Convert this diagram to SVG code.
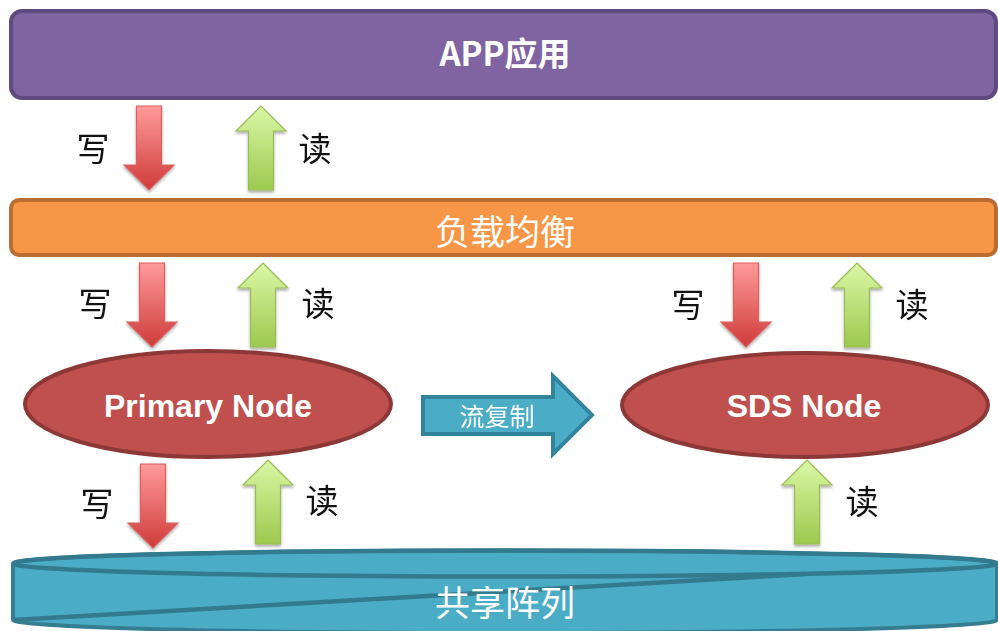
<svg xmlns="http://www.w3.org/2000/svg" xmlns:xlink="http://www.w3.org/1999/xlink" width="998" height="631" viewBox="0 0 998 631">
  <style>
    .cjk { font-family: "Noto Sans CJK SC", "Liberation Sans", sans-serif; }
    .lbl { font-family: "Noto Sans CJK SC", sans-serif; font-size: 33px; fill: #111; text-anchor: middle; dominant-baseline: central; }
    .wt { fill: #ffffff; text-anchor: middle; }
    .node-en { font-family: "Liberation Sans", "Noto Sans", sans-serif; font-weight: bold; font-size: 32px; fill: #ffffff; text-anchor: middle; }
  </style>
  <defs>
    <linearGradient id="gRed" x1="0" y1="0" x2="0" y2="1">
      <stop offset="0" stop-color="#FF9A9A"/>
      <stop offset="1" stop-color="#CF3B3A"/>
    </linearGradient>
    <linearGradient id="gGreen" x1="0" y1="0" x2="0" y2="1">
      <stop offset="0" stop-color="#DBF7A6"/>
      <stop offset="1" stop-color="#9CC94E"/>
    </linearGradient>
    <filter id="sh" x="-20%" y="-20%" width="140%" height="140%">
      <feGaussianBlur in="SourceAlpha" stdDeviation="1.5"/>
      <feOffset dx="0" dy="2" result="b"/>
      <feComponentTransfer><feFuncA type="linear" slope="0.35"/></feComponentTransfer>
      <feMerge><feMergeNode/><feMergeNode in="SourceGraphic"/></feMerge>
    </filter>
    <path id="down" d="M12.5,0 H37.5 V59 H50 L25,84 L0,59 H12.5 Z" fill="url(#gRed)" stroke="#D9605C" stroke-width="1.2"/>
    <path id="up" d="M25,0 L50,25 H37.5 V84 H12.5 V25 H0 Z" fill="url(#gGreen)" stroke="#9BBB59" stroke-width="1.2"/>
  </defs>

  <g id="node-app">
    <rect x="11" y="11" width="985" height="87" rx="11" fill="#8064A2" stroke="#5F4A80" stroke-width="4"/>
    <text x="505" y="66" class="cjk wt" font-size="33" font-weight="bold">APP应用</text>
  </g>

  <g id="node-lb">
    <rect x="11" y="200" width="985" height="55" rx="8" fill="#F79646" stroke="#B96D33" stroke-width="4"/>
    <text x="505" y="229" class="cjk wt" font-size="35" dominant-baseline="central">负载均衡</text>
  </g>

  <g id="node-primary">
    <ellipse cx="208" cy="404" rx="183" ry="53" fill="#C0504D" stroke="#8C3836" stroke-width="4"/>
    <text x="208" y="417" class="node-en">Primary Node</text>
  </g>

  <g id="node-sds">
    <ellipse cx="805" cy="405" rx="183" ry="52" fill="#C0504D" stroke="#8C3836" stroke-width="4"/>
    <text x="804" y="417" class="node-en">SDS Node</text>
  </g>

  <g id="node-storage">
    <path d="M13,563.5 A492,13 0 0 1 997,563.5 V620 A492,13 0 0 1 13,620 Z" fill="#4BACC6" stroke="#357D91" stroke-width="4"/>
    <ellipse cx="505" cy="563.5" rx="492" ry="13" fill="none" stroke="#337A8E" stroke-width="4.5"/>
    <path d="M13,620 Q 420,597 805,574" fill="none" stroke="#337A8E" stroke-width="4.5"/>
    <text x="505" y="600" class="cjk wt" font-size="35" dominant-baseline="central">共享阵列</text>
  </g>

  <g id="connectors">
    <g filter="url(#sh)">
      <use href="#down" x="124" y="106"/>
      <use href="#up" x="236" y="106"/>
      <use href="#down" x="127" y="263"/>
      <use href="#up" x="238" y="263"/>
      <use href="#down" x="721" y="263"/>
      <use href="#up" x="832" y="263"/>
      <use href="#down" x="128" y="464"/>
      <use href="#up" x="243" y="460"/>
      <use href="#up" x="782" y="460"/>
    </g>
    <text class="lbl" x="93" y="147">写</text>
    <text class="lbl" x="315" y="147">读</text>
    <text class="lbl" x="95" y="302">写</text>
    <text class="lbl" x="318" y="302">读</text>
    <text class="lbl" x="688" y="303">写</text>
    <text class="lbl" x="912" y="303">读</text>
    <text class="lbl" x="97" y="502">写</text>
    <text class="lbl" x="322" y="499">读</text>
    <text class="lbl" x="862" y="500">读</text>

    <g id="flow-replication">
      <path d="M423,397 H553 V376 L592,415 L553,454 V434 H423 Z" fill="#4BACC6" stroke="#31849B" stroke-width="4" stroke-linejoin="miter"/>
      <text x="497" y="415" class="cjk wt" font-size="25" dominant-baseline="central">流复制</text>
    </g>
  </g>
</svg>
